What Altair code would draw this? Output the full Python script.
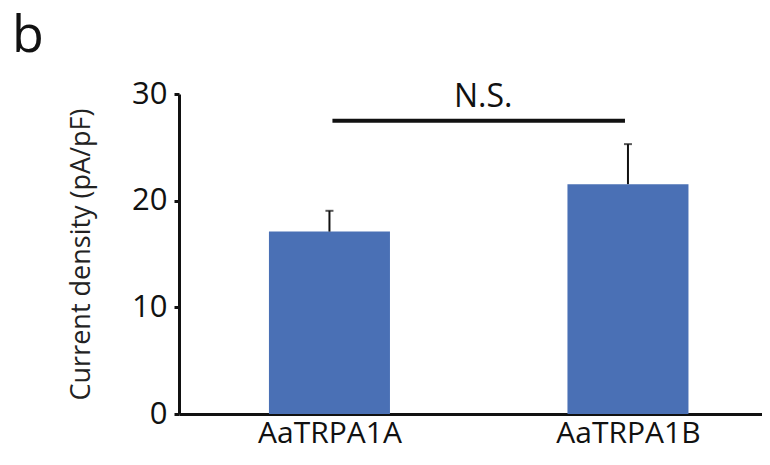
import json
import altair as alt
import pandas as pd

# ---- data ----
categories = ["AaTRPA1A", "AaTRPA1B"]
means = [17.1, 21.55]
errors = [1.95, 3.75]
y_ticks = [0, 10, 20, 30]
sig_label = "N.S."
sig_span = [0.01, 0.99]      # bracket runs between the two bars (category index units)
sig_y = 27.5
sig_text_pos = [0.515, 28.75]
panel_label = "b"

FONT = "Open Sans"
BAR_COLOR = "#4A70B5"
INK = "#111111"
HALF_W = 0.2027

df = pd.DataFrame({
    "category": categories,
    "idx": list(range(len(categories))),
    "mean": means,
    "err": errors,
})
df["top"] = df["mean"] + df["err"]

xscale = alt.Scale(domain=[-0.504, 1.449], nice=False, zero=False)
yscale = alt.Scale(domain=[0, 30], nice=False)

label_expr = f"{json.dumps(categories)}[datum.value]"

base = alt.Chart(df)

bars = base.transform_calculate(
    x0=f"datum.idx - {HALF_W}", x1=f"datum.idx + {HALF_W}", y0="0"
).mark_bar(color=BAR_COLOR).encode(
    x=alt.X("x0:Q", scale=xscale, axis=alt.Axis(
        values=list(range(len(categories))), labelExpr=label_expr, title=None,
        grid=False, ticks=False, domainWidth=3, domainColor=INK,
        labelFont=FONT, labelFontSize=30, labelColor=INK, labelPadding=4,
    )),
    x2="x1:Q",
    y=alt.Y("mean:Q", scale=yscale, axis=alt.Axis(
        values=y_ticks, title="Current density (pA/pF)", grid=False,
        tickSize=5, tickWidth=3, tickColor=INK, domainWidth=3, domainColor=INK,
        labelFont=FONT, labelFontSize=31, labelColor=INK, labelPadding=7,
        titleFont=FONT, titleFontSize=27, titleFontWeight="normal",
        titleColor="#222222", titlePadding=36,
    )),
    y2="y0:Q",
)

err_line = base.mark_rule(color=INK, strokeWidth=2).encode(
    x=alt.X("idx:Q", scale=xscale), y="mean:Q", y2="top:Q"
)
err_cap = base.mark_tick(color=INK, thickness=2, size=8, orient="horizontal").encode(
    x=alt.X("idx:Q", scale=xscale), y=alt.Y("top:Q", scale=yscale)
)

sig_df = pd.DataFrame({"x0": [sig_span[0]], "x1": [sig_span[1]], "y": [sig_y]})
sig_line = alt.Chart(sig_df).mark_rule(color=INK, strokeWidth=4).encode(
    x=alt.X("x0:Q", scale=xscale), x2="x1:Q", y=alt.Y("y:Q", scale=yscale)
)

txt_df = pd.DataFrame({"x": [sig_text_pos[0]], "y": [sig_text_pos[1]], "t": [sig_label]})
sig_text = alt.Chart(txt_df).mark_text(
    font=FONT, fontSize=32, color=INK, baseline="alphabetic", align="center"
).encode(x=alt.X("x:Q", scale=xscale), y=alt.Y("y:Q", scale=yscale), text="t:N")

pl_df = pd.DataFrame({"t": [panel_label]})
panel = alt.Chart(pl_df).mark_text(
    font=FONT, fontSize=52, color=INK, baseline="alphabetic", align="left"
).encode(x=alt.value(-167), y=alt.value(-42), text="t:N")

chart = alt.layer(bars, err_line, err_cap, sig_line, sig_text, panel).properties(
    width=583, height=320,
    autosize=alt.AutoSizeParams(type="none"),
    padding={"left": 171, "top": 86, "right": 0, "bottom": 37},
    background="white",
).configure_view(stroke=None)

chart.save("out.html", embed_options={"renderer": "svg", "actions": False})
